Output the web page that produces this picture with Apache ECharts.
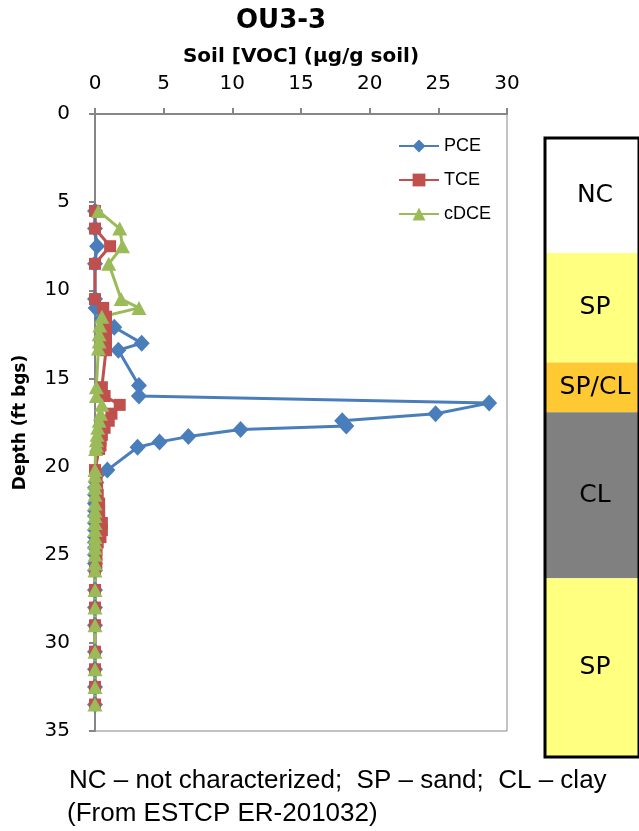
<!DOCTYPE html>
<html>
<head>
<meta charset="utf-8">
<script src="https://cdn.jsdelivr.net/npm/echarts@6/dist/echarts.min.js"></script>
<style>
html, body { margin: 0; padding: 0; background: #fff; }
#main { width: 639px; height: 831px; }
</style>
</head>
<body>
<div id="main"></div>
<script>
// depth (ft bgs) and soil concentration (ug/g) for each compound
var pceDepth = [5.5, 6.5, 7.5, 8.5, 10.5, 11.0, 11.6, 12.1, 13.0, 13.4, 15.4, 16.0, 16.4, 17.0, 17.4, 17.7, 17.9, 18.3, 18.6, 18.9, 20.2, 20.9, 21.2, 21.6, 22.1, 22.5, 22.8, 23.2, 23.6, 24.0, 24.3, 24.6, 25.0, 25.5, 25.9, 27.0, 28.0, 29.0, 30.5, 31.5, 32.5, 33.5];
var pceConc = [0, 0, 0.15, 0, 0, 0.05, 0.5, 1.4, 3.4, 1.7, 3.2, 3.2, 28.7, 24.8, 18.0, 18.3, 10.6, 6.8, 4.7, 3.1, 0.9, 0.1, 0, 0, 0, 0, 0, 0, 0, 0, 0, 0, 0, 0, 0, 0, 0, 0, 0, 0, 0, 0];

var tceDepth = [5.5, 6.5, 7.5, 8.5, 10.5, 11.0, 11.5, 12.0, 12.5, 13.0, 13.4, 15.5, 16.0, 16.5, 17.0, 17.4, 17.8, 18.2, 18.5, 18.8, 19.0, 20.2, 20.5, 20.9, 21.2, 21.6, 22.1, 22.5, 22.8, 23.2, 23.6, 24.0, 24.3, 24.6, 25.0, 25.5, 25.9, 27.0, 28.0, 29.0, 30.5, 31.5, 32.5, 33.5];
var tceConc = [0, 0, 1.1, 0, 0, 0.6, 0.8, 0.8, 0.8, 0.8, 0.8, 0.5, 0.7, 1.8, 1.2, 1.0, 0.7, 0.5, 0.4, 0.4, 0.3, 0, 0.1, 0.1, 0.15, 0.2, 0.3, 0.3, 0.3, 0.5, 0.5, 0.4, 0.2, 0.1, 0.1, 0.1, 0, 0, 0, 0, 0, 0, 0, 0];

var dceDepth = [5.5, 6.5, 7.5, 8.5, 10.5, 11.0, 11.5, 12.0, 12.5, 12.9, 13.3, 15.5, 16.0, 16.5, 17.0, 17.4, 17.8, 18.2, 18.5, 18.8, 19.0, 20.2, 20.5, 20.9, 21.2, 21.6, 22.1, 22.5, 22.8, 23.2, 23.6, 24.0, 24.3, 24.6, 25.0, 25.5, 25.9, 27.0, 28.0, 29.0, 30.5, 31.5, 32.5, 33.5];
var dceConc = [0.25, 1.8, 2.0, 1.0, 1.9, 3.2, 0.5, 0.35, 0.3, 0.3, 0.25, 0.1, 0.1, 0.5, 0.4, 0.3, 0.2, 0.15, 0.1, 0.1, 0.05, 0, 0, 0, 0, 0, 0, 0, 0, 0, 0, 0, 0, 0, 0, 0, 0, 0, 0, 0, 0, 0, 0, 0];

// boring log column (ft, on the column's own scale)
var layerNames = ['NC', 'SP', 'SP/CL', 'CL', 'SP'];
var layerTop = [0, 6.5, 12.7, 15.5, 24.9];
var layerBottom = [6.5, 12.7, 15.5, 24.9, 35];

var soilColors = {
    'NC': '#ffffff',
    'SP': '#ffff80',
    'SP/CL': '#ffc934',
    'CL': '#808080'
};

var axisGray = '#868686';

function pairs(depth, conc) {
    return conc.map(function (v, i) {
        return [v, depth[i]];
    });
}

var chart = echarts.init(document.getElementById('main'));

var option = {
    backgroundColor: '#fff',
    animation: false,
    title: [
        {
            text: 'OU3-3',
            left: 231,
            top: 3,
            textStyle: { fontFamily: 'DejaVu Sans', fontWeight: 'bold', fontSize: 26, color: '#000' }
        },
        {
            text: 'NC \u2013 not characterized;  SP \u2013 sand;  CL \u2013 clay',
            left: 64,
            top: 763,
            textStyle: { fontFamily: 'Liberation Sans', fontWeight: 'normal', fontSize: 26, color: '#000' }
        },
        {
            text: '(From ESTCP ER-201032)',
            left: 62,
            top: 796,
            textStyle: { fontFamily: 'Liberation Sans', fontWeight: 'normal', fontSize: 26, color: '#000' }
        }
    ],
    legend: {
        orient: 'vertical',
        left: 393,
        top: 132,
        itemWidth: 40,
        itemHeight: 16,
        itemGap: 16,
        textStyle: { fontFamily: 'Liberation Sans', fontSize: 18, color: '#000' },
        data: ['PCE', 'TCE', 'cDCE']
    },
    grid: [
        {
            left: 95,
            right: 132,
            top: 114,
            bottom: 100,
            show: true,
            borderColor: axisGray,
            borderWidth: 1
        },
        {
            left: 545,
            top: 138,
            width: 200,
            height: 619,
            show: false
        }
    ],
    xAxis: [
        {
            type: 'value',
            gridIndex: 0,
            position: 'top',
            min: 0,
            max: 30,
            interval: 5,
            name: 'Soil [VOC] (\u03bcg/g soil)',
            nameLocation: 'middle',
            nameGap: 47,
            nameTextStyle: { fontFamily: 'DejaVu Sans', fontWeight: 'bold', fontSize: 20, color: '#000' },
            axisLine: { lineStyle: { color: axisGray, width: 2 } },
            axisTick: { show: true, length: 6, lineStyle: { color: axisGray, width: 2 } },
            axisLabel: { margin: 20, fontFamily: 'DejaVu Sans', fontSize: 20, color: '#000' },
            splitLine: { show: false }
        },
        {
            type: 'value',
            gridIndex: 1,
            min: 0,
            max: 1,
            show: false
        }
    ],
    yAxis: [
        {
            type: 'value',
            gridIndex: 0,
            inverse: true,
            min: 0,
            max: 35,
            interval: 5,
            name: 'Depth (ft bgs)',
            nameLocation: 'middle',
            nameGap: 66,
            nameTextStyle: { fontFamily: 'DejaVu Sans', fontWeight: 'bold', fontSize: 17, color: '#000' },
            axisLine: { lineStyle: { color: axisGray, width: 2 } },
            axisTick: { show: true, length: 6, lineStyle: { color: axisGray, width: 2 } },
            axisLabel: { margin: 25, fontFamily: 'DejaVu Sans', fontSize: 20, color: '#000' },
            splitLine: { show: false }
        },
        {
            type: 'value',
            gridIndex: 1,
            inverse: true,
            min: 0,
            max: 35,
            show: false
        }
    ],
    series: [
        {
            name: 'PCE',
            type: 'line',
            xAxisIndex: 0,
            yAxisIndex: 0,
            data: pairs(pceDepth, pceConc),
            symbol: 'diamond',
            symbolSize: [16, 17],
            color: '#4a7ebb',
            lineStyle: { color: '#4a7ebb', width: 3 },
            itemStyle: { color: '#4a7ebb' }
        },
        {
            name: 'TCE',
            type: 'line',
            xAxisIndex: 0,
            yAxisIndex: 0,
            data: pairs(tceDepth, tceConc),
            symbol: 'rect',
            symbolSize: 12,
            color: '#c0504d',
            lineStyle: { color: '#c0504d', width: 3 },
            itemStyle: { color: '#c0504d' }
        },
        {
            name: 'cDCE',
            type: 'line',
            xAxisIndex: 0,
            yAxisIndex: 0,
            data: pairs(dceDepth, dceConc),
            symbol: 'triangle',
            symbolSize: [15, 14],
            color: '#9bbb59',
            lineStyle: { color: '#9bbb59', width: 3 },
            itemStyle: { color: '#9bbb59' }
        },
        {
            name: 'log',
            type: 'custom',
            xAxisIndex: 1,
            yAxisIndex: 1,
            silent: true,
            data: layerNames.map(function (n, i) {
                return [layerTop[i], layerBottom[i]];
            }),
            renderItem: function (params, api) {
                var i = params.dataIndex;
                var p0 = api.coord([0, api.value(0)]);
                var p1 = api.coord([1, api.value(1)]);
                var children = [
                    {
                        type: 'rect',
                        shape: { x: p0[0], y: p0[1], width: p1[0] - p0[0], height: p1[1] - p0[1] },
                        style: { fill: soilColors[layerNames[i]] }
                    },
                    {
                        type: 'text',
                        x: p0[0] + 50,
                        y: (p0[1] + p1[1]) / 2,
                        z2: 5,
                        style: {
                            text: layerNames[i],
                            align: 'center',
                            verticalAlign: 'middle',
                            fontFamily: 'DejaVu Sans',
                            fontSize: 25,
                            fill: '#000'
                        }
                    }
                ];
                if (i === layerNames.length - 1) {
                    var top = api.coord([0, layerTop[0]]);
                    children.push({
                        type: 'rect',
                        z2: 10,
                        shape: { x: top[0], y: top[1], width: p1[0] - top[0], height: p1[1] - top[1] },
                        style: { fill: 'none', stroke: '#000', lineWidth: 3 }
                    });
                }
                return { type: 'group', children: children };
            }
        }
    ]
};

chart.setOption(option);
</script>
</body>
</html>
